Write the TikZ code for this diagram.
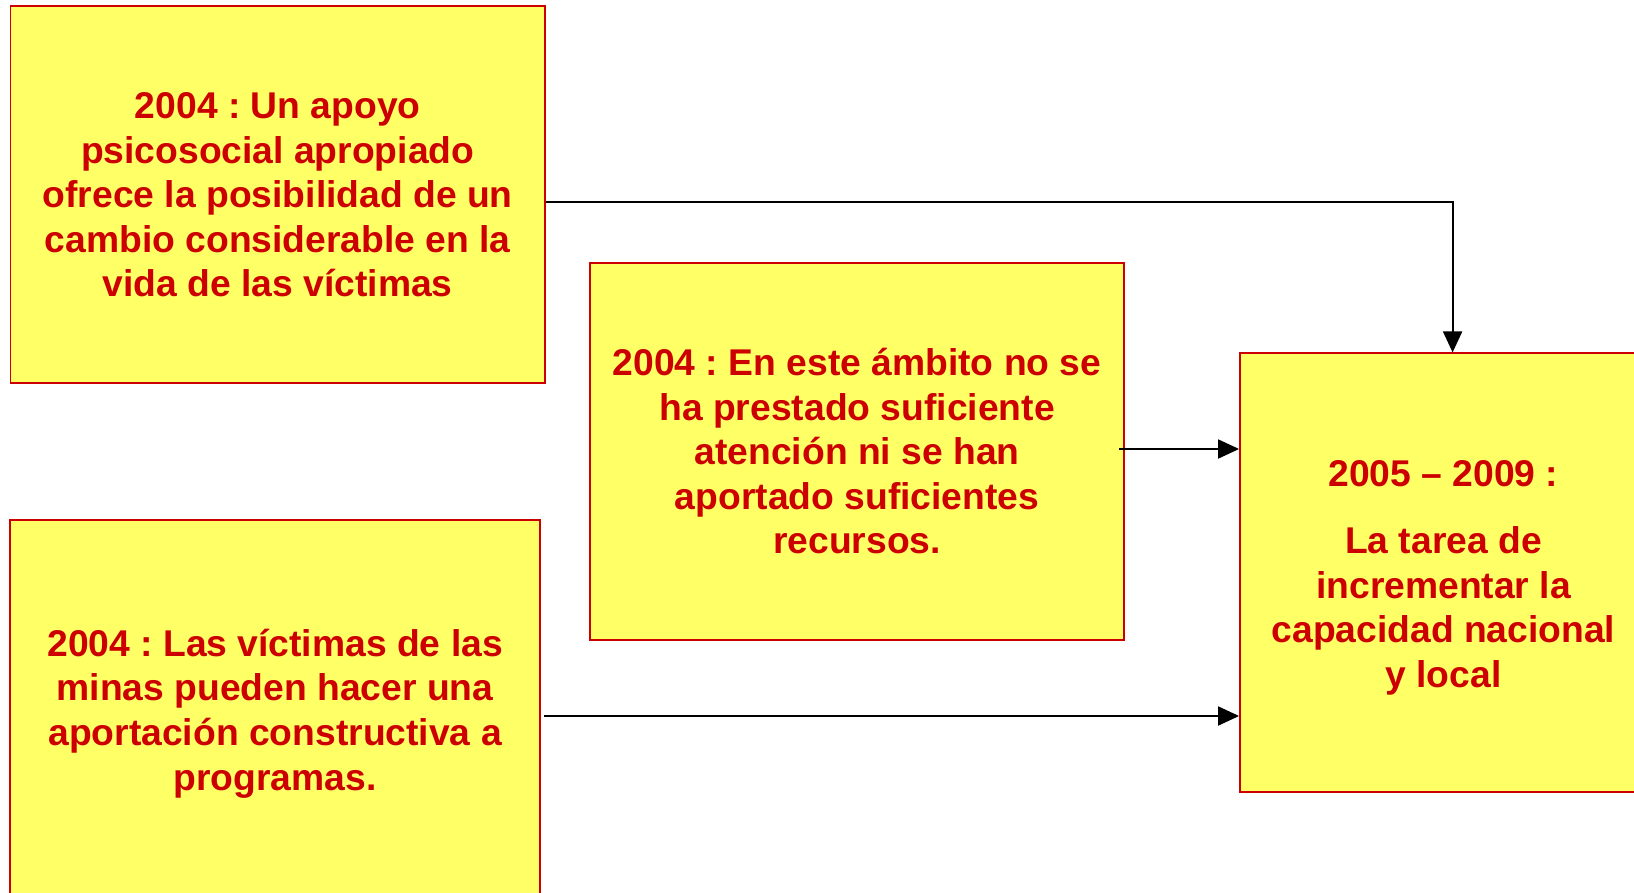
\documentclass[tikz,border=0pt]{standalone}
\usepackage{fontspec}
\setmainfont{Liberation Sans}
\usetikzlibrary{arrows.meta}
\definecolor{red1}{RGB}{204, 0, 0}
\definecolor{yellow1}{RGB}{255, 255, 102}
\frenchspacing

\begin{document}
\begin{tikzpicture}[x=0.02cm, y=-0.02cm, line width=1.1pt,
  box/.style={rectangle, draw=red1, fill=yellow1, text=red1, align=center,
    font=\bfseries\fontsize{21.2}{25.4}\selectfont, inner sep=0pt},
  link/.style={draw=black, -{Triangle[length=0.42cm, width=0.38cm]}}]
  \useasboundingbox (0,0) rectangle (1634,893);

  \node[box, minimum width=10.69cm, minimum height=7.54cm] (apoyo) at (277.7,194.9)
    {2004 : Un apoyo\\psicosocial apropiado\\ofrece la posibilidad de un\\cambio considerable en la\\vida de las víctimas};
  \node[box, minimum width=10.69cm, minimum height=7.54cm] (ambito) at (857.1,451.2)
    {2004 : En este ámbito no se\\ha prestado suficiente\\atención ni se han\\aportado suficientes\\recursos.};
  \node[box, minimum width=10.59cm, minimum height=7.58cm] (minas) at (275.1,709.5)
    {\rule{0pt}{20pt}2004 : Las víctimas de las\\minas pueden hacer una\\aportación constructiva a\\programas.};
  \node[box, minimum width=8.14cm, minimum height=8.77cm] (tarea) at (1443.5,572.6)
    {\rule{0pt}{21pt}2005 -- 2009 :\\[0.44cm]La tarea de\\incrementar la\\capacidad nacional\\y local};

  % connectors
  \coordinate (c1) at (1452.6,202);
  \coordinate (c2) at (1119,449);
  \coordinate (c3) at (544,716);
  \draw[link] (apoyo.east |- c1) -| (c1 |- tarea.north);
  \foreach \from in {c2, c3}
    \draw[link] (\from) -- (\from -| tarea.west);
\end{tikzpicture}
\end{document}
